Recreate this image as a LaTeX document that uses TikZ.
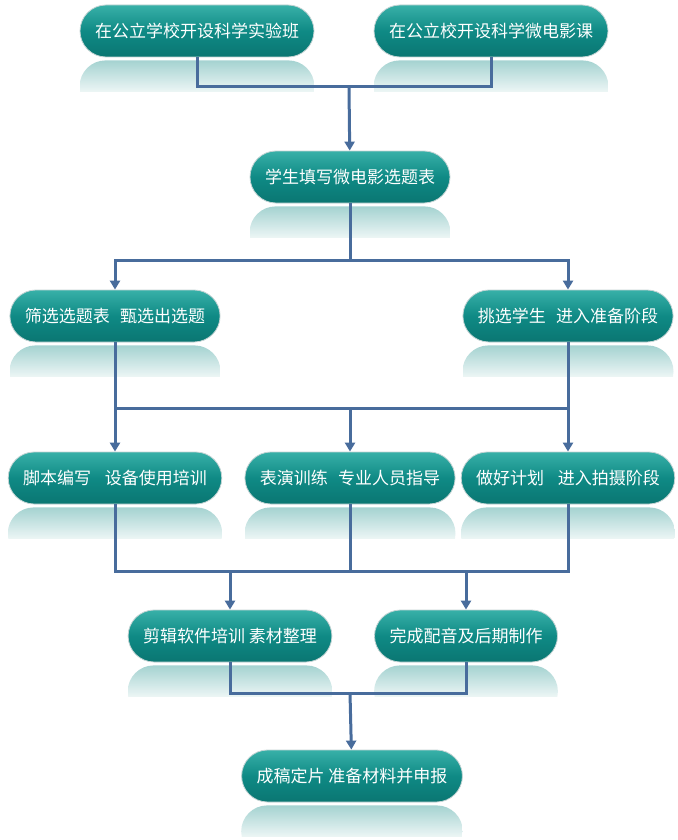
\documentclass[tikz,border=0pt]{standalone}
\usepackage{fontspec}
\newfontfamily\cjk{Noto Sans CJK SC}
\usepackage{tikz}
\usetikzlibrary{arrows.meta, fadings, positioning}
\definecolor{stagetop}{RGB}{56,176,168}
\definecolor{stagemid}{RGB}{15,138,133}
\definecolor{stagebot}{RGB}{10,118,114}
\definecolor{stageedge}{RGB}{196,212,212}
\definecolor{linkblue}{RGB}{72,108,156}
\tikzfading[name=reflectfade, top color=transparent!50, bottom color=transparent!100]
\tikzstyle{stage}=[rectangle, rounded corners=26pt, minimum height=52pt, inner xsep=15pt,
  top color=stagetop, bottom color=stagebot, middle color=stagemid, draw=stageedge, line width=0.8pt,
  text=white, font=\cjk\fontsize{17}{20}\selectfont]
\tikzstyle{mirror}=[fill=stagemid, path fading=reflectfade]
\tikzstyle{link}=[draw=linkblue, line width=3pt]

\begin{document}
\begin{tikzpicture}[x=1pt, y=1pt, >={Triangle[width=10pt,length=9pt]}]
      \path[use as bounding box, fill=white] (0,0) rectangle (677,-840);

      \node[stage] (a1) at (197,-31) {在公立学校开设科学实验班};
      \node[stage] (a2) at (491,-31) {在公立校开设科学微电影课};

      \node[stage] (b)  at (350,-177) {学生填写微电影选题表};

      \node[stage] (c1) at (115,-316) {筛选选题表\hspace{0.6em}甄选出选题};
      \node[stage] (c2) at (568,-316) {挑选学生\hspace{0.6em}进入准备阶段};

      \node[stage] (d1) at (115,-478) {脚本编写\hspace{0.8em}设备使用培训};
      \node[stage] (d2) at (350,-478) {表演训练\hspace{0.6em}专业人员指导};
      \node[stage] (d3) at (568,-478) {做好计划\hspace{0.8em}进入拍摄阶段};

      \node[stage] (e1) at (230,-636) {剪辑软件培训 素材整理};
      \node[stage] (e2) at (466,-636) {完成配音及后期制作};

      \node[stage] (f)  at (352,-776) {成稿定片 准备材料并申报};

      % reflections
      \foreach \n in {a1,a2,b,c1,c2,d1,d2,d3,e1,e2,f} {
        \begin{scope}
          \clip ([yshift=-3pt]\n.south west) rectangle ([yshift=-34pt]\n.south east);
          \clip[rounded corners=26pt] ([yshift=-3pt]\n.south west) rectangle ([yshift=-55pt]\n.south east);
          \path[mirror] ([yshift=10pt]\n.south west) rectangle ([yshift=-42pt]\n.south east);
        \end{scope}
      }

      \coordinate (j1) at (349,-87);
      \coordinate (j2) at (350,-260);
      \coordinate (j3) at (350,-408);
      \coordinate (j4) at (350,-571);
      \coordinate (j5) at (350,-693);

      \draw[link] (a1.south) |- (j1) -| (a2.south);
      \draw[link, ->] (j1) -- (b);

      \draw[link] (b) -- (j2);
      \draw[link, ->] (j2) -| (c1);
      \draw[link, ->] (j2) -| (c2);

      \draw[link, ->] (c1) -- (d1);
      \draw[link, ->] (c2) -- (d3);
      \draw[link] (c1 |- j3) -- (c2 |- j3);
      \draw[link, ->] (j3) -- (d2);

      \draw[link] (d1.south) |- (j4) -| (d3.south);
      \draw[link] (d2) -- (j4);
      \draw[link, ->] (e1 |- j4) -- (e1);
      \draw[link, ->] (e2 |- j4) -- (e2);

      \draw[link] (e1.south) |- (j5) -| (e2.south);
      \draw[link, ->] (j5) -- (f);
    \end{tikzpicture}
\end{document}
